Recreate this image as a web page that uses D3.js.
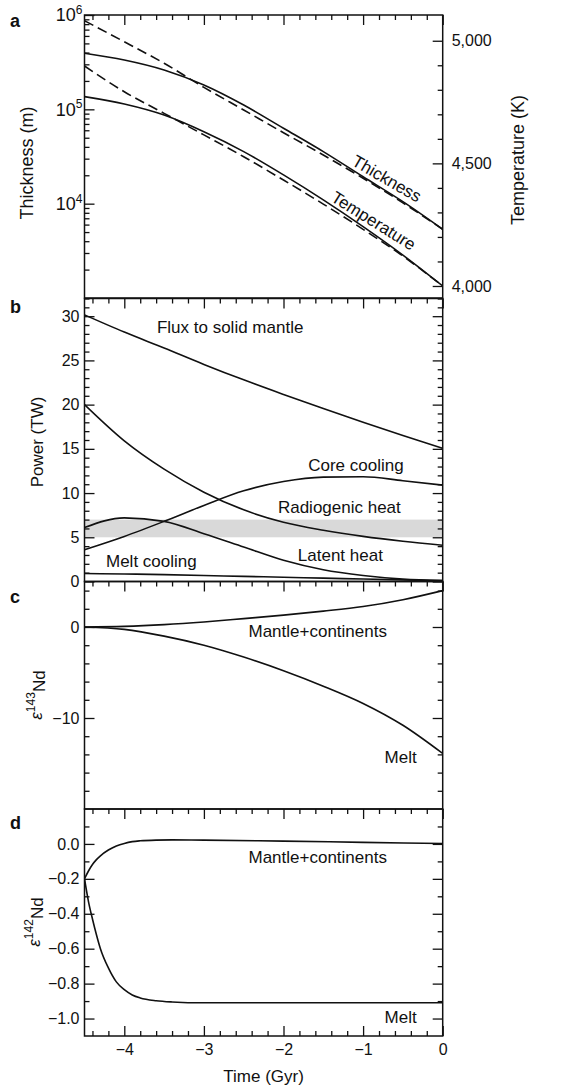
<!DOCTYPE html>
<html><head><meta charset="utf-8">
<script src="https://cdn.jsdelivr.net/npm/d3@7"></script>
<style>
body{margin:0;background:#fff;}
svg text{font-family:"Liberation Sans",Arial,Helvetica,sans-serif;fill:#111;}
</style></head><body>
<svg id="chart" width="579" height="1086"></svg>
<script>
// ---------------- DATA ----------------
const years = [-4.5,-4,-3.5,-3,-2.5,-2,-1.5,-1,-0.5,0];
const timeTicks = [-4,-3,-2,-1,0];
// panel a
const thicknessModel   = [3.93e5,3.33e5,2.61e5,1.81e5,1.11e5,6.3e4,3.56e4,1.93e4,1.05e4,5.35e3];
const thicknessApprox  = [8.7e5,5.2e5,3.08e5,1.71e5,9.84e4,5.65e4,3.28e4,1.86e4,1.02e4,5.35e3];
const temperatureModel = [4772,4742,4697,4629,4548,4453,4351,4242,4126,4000];
const temperatureApprox= [4897,4792,4704,4616,4527,4432,4334,4231,4122,4000];
const thicknessTicks = [1e4,1e5,1e6];
const thicknessExp = ["4","5","6"];
const temperatureTicks = [4000,4500,5000];
// panel b
const fluxToMantle   = [30.15,28.2,26.4,24.55,22.8,21.15,19.55,18.0,16.5,15.05];
const radiogenicHeat = [20.0,15.9,12.7,10.1,8.1,6.7,5.8,5.1,4.55,4.1];
const coreCooling    = [3.6,5.1,6.8,8.6,10.25,11.3,11.8,11.85,11.4,10.9];
const latentHeat     = [6.1,7.2,6.8,5.4,3.9,2.4,1.33,0.68,0.27,0.1];
const meltCooling    = [0.9,0.85,0.78,0.68,0.58,0.48,0.38,0.28,0.18,0.1];
const radiogenicBand = [5,7];
const powerTicks = [0,5,10,15,20,25,30];
// panel c
const nd143Mantle = [0,0.07,0.26,0.55,0.92,1.3,1.74,2.25,3.0,4.0];
const nd143Melt   = [0,-0.26,-1.0,-2.0,-3.3,-4.8,-6.5,-8.4,-10.8,-13.9];
const nd143Ticks = [-10,0];
// panel d
const nd142Years  = [-4.5,-4.45,-4.4,-4.35,-4.3,-4.2,-4.1,-4.0,-3.9,-3.8,-3.6,-3.4,-3.0,-2,-1,0];
const nd142Mantle = [-0.20,-0.155,-0.118,-0.09,-0.068,-0.035,-0.012,0.003,0.013,0.018,0.022,0.023,0.022,0.016,0.009,0.002];
const nd142Melt   = [-0.20,-0.33,-0.43,-0.52,-0.60,-0.71,-0.79,-0.835,-0.865,-0.882,-0.898,-0.905,-0.91,-0.91,-0.91,-0.91];
const nd142Ticks = [-1.0,-0.8,-0.6,-0.4,-0.2,0.0];

// ---------------- LAYOUT ----------------
const FONT = '"Liberation Sans",Arial,Helvetica,sans-serif';
const INK = "#111";
const svg = d3.select("#chart");
const X0 = 84.5, X1 = 442.7;
const P = {a:[15,298], b:[298.5,581.5], c:[581.5,809], d:[809,1036]};
const x = d3.scaleLinear().domain([-4.5,0]).range([X0,X1]);
const yThick = d3.scaleLog().domain([1e3,1e6]).range([P.a[1],P.a[0]]);
const yTemp = d3.scaleLinear().domain([3951,5105]).range([P.a[1],P.a[0]]);
const yPow = d3.scaleLinear().domain([0,32]).range([P.b[1],P.b[0]]);
const y143 = d3.scaleLinear().domain([-20,5]).range([P.c[1],P.c[0]]);
const y142 = d3.scaleLinear().domain([-1.1,0.2]).range([P.d[1],P.d[0]]);

const xMinor = d3.range(-22,1).filter(i=>i%5!==0).map(i=>i*0.2);

function axisG(gen, tx, ty, fs){
  const g = svg.append("g").attr("transform",`translate(${tx},${ty})`).call(gen);
  g.attr("font-family",FONT).attr("font-size",fs||16);
  g.select(".domain").remove();
  g.selectAll("line").attr("stroke",INK).attr("stroke-width",1.3);
  g.selectAll("text").attr("fill",INK);
  return g;
}
function clip(id, top, bottom){
  svg.append("clipPath").attr("id",id).append("rect")
    .attr("x",X0).attr("y",top).attr("width",X1-X0).attr("height",bottom-top);
}
function frame(top,bottom){
  svg.append("rect").attr("x",X0).attr("y",top).attr("width",X1-X0).attr("height",bottom-top)
    .attr("fill","none").attr("stroke",INK).attr("stroke-width",1.5);
}
function topTicks(top){
  axisG(d3.axisTop(x).tickValues(timeTicks).tickSize(-10).tickFormat(""),0,top);
  axisG(d3.axisTop(x).tickValues(xMinor).tickSize(-5).tickFormat(""),0,top);
}
function sideTicks(scale, major, minor, fmt, fs){
  axisG(d3.axisLeft(scale).tickValues(major).tickSize(-10).tickPadding(5).tickFormat(fmt||""),X0,0,fs);
  axisG(d3.axisLeft(scale).tickValues(minor).tickSize(-5).tickFormat(""),X0,0);
  axisG(d3.axisRight(scale).tickValues(major).tickSize(-10).tickFormat(""),X1,0);
  axisG(d3.axisRight(scale).tickValues(minor).tickSize(-5).tickFormat(""),X1,0);
}
function drawLine(xs, ys, yScale, clipId, dash){
  const line = d3.line().x(d=>x(d[0])).y(d=>yScale(d[1])).curve(d3.curveMonotoneX);
  svg.append("path").datum(xs.map((v,i)=>[v,ys[i]]))
    .attr("d",line).attr("fill","none").attr("stroke",INK).attr("stroke-width",1.6)
    .attr("stroke-dasharray",dash||null).attr("clip-path",`url(#${clipId})`);
}
function label(txt, xv, yv, yScale, opts={}){
  const t = svg.append("text").attr("x",x(xv)).attr("y",yScale(yv))
    .attr("font-size",opts.fs||17).attr("text-anchor",opts.anchor||"start").text(txt);
  if(opts.rot!==undefined){
    t.attr("transform",`rotate(${opts.rot},${x(xv)},${yScale(yv)})`).attr("dy",opts.dy||"-0.3em");
  }
  return t;
}
function panelLetter(l, y){
  svg.append("text").attr("x",10).attr("y",y).attr("font-size",18).attr("font-weight","bold").text(l);
}
function yTitle(cx, cy, fs){
  return svg.append("text").attr("transform",`translate(${cx},${cy}) rotate(-90)`)
    .attr("text-anchor","middle").attr("font-size",fs||17);
}

// ---------- Panel a ----------
clip("ca",P.a[0],P.a[1]);
drawLine(years, thicknessApprox, yThick, "ca", "10,5");
drawLine(years, temperatureApprox, yTemp, "ca", "10,5");
drawLine(years, thicknessModel, yThick, "ca");
drawLine(years, temperatureModel, yTemp, "ca");
topTicks(P.a[0]);
const thickMinor = [];
[1e3,1e4,1e5].forEach(b=>{ for(let k=2;k<=9;k++) thickMinor.push(k*b); });
axisG(d3.axisLeft(yThick).tickValues(thicknessTicks).tickSize(-10).tickFormat(""),X0,0);
axisG(d3.axisLeft(yThick).tickValues(thickMinor).tickSize(-5).tickFormat(""),X0,0);
thicknessTicks.forEach((v,i)=>{
  const t = svg.append("text").attr("x",X0-2).attr("y",yThick(v)).attr("dy","0.35em")
    .attr("text-anchor","end").attr("font-size",18);
  t.append("tspan").text("10");
  t.append("tspan").attr("font-size",12).attr("dy","-0.6em").text(thicknessExp[i]);
});
const tempMinor = d3.range(4000,5100,100).filter(v=>v%500!==0);
axisG(d3.axisRight(yTemp).tickValues(temperatureTicks).tickSize(-10).tickPadding(9).tickFormat(d3.format(",")),X1,0,16);
axisG(d3.axisRight(yTemp).tickValues(tempMinor).tickSize(-5).tickFormat(""),X1,0);
frame(P.a[0],P.a[1]);
label("Thickness", -0.77, 1.46e4, yThick, {anchor:"middle", rot:30, fs:17});
label("Temperature", -0.94, 4228, yTemp, {anchor:"middle", rot:32, fs:17});
yTitle(33,163,18).text("Thickness (m)");
yTitle(524,160,18).text("Temperature (K)");
panelLetter("a",27);

// ---------- Panel b ----------
clip("cb",P.b[0],P.b[1]);
svg.append("rect").attr("x",X0).attr("width",X1-X0)
  .attr("y",yPow(radiogenicBand[1])).attr("height",yPow(radiogenicBand[0])-yPow(radiogenicBand[1]))
  .attr("fill","#d9d9d9");
drawLine(years, fluxToMantle, yPow, "cb");
drawLine(years, radiogenicHeat, yPow, "cb");
drawLine(years, coreCooling, yPow, "cb");
drawLine(years, latentHeat, yPow, "cb");
drawLine(years, meltCooling, yPow, "cb");
topTicks(P.b[0]);
sideTicks(yPow, powerTicks, d3.range(1,33).filter(v=>v%5!==0), d3.format("d"), 16);
frame(P.b[0],P.b[1]);
label("Flux to solid mantle", -3.59, 28.1, yPow);
label("Core cooling", -1.69, 12.5, yPow);
label("Radiogenic heat", -2.07, 7.78, yPow);
label("Latent heat", -1.82, 2.35, yPow);
label("Melt cooling", -4.23, 1.67, yPow);
yTitle(43,442).text("Power (TW)");
panelLetter("b",313);

// ---------- Panel c ----------
clip("cc",P.c[0],P.c[1]);
drawLine(years, nd143Mantle, y143, "cc");
drawLine(years, nd143Melt, y143, "cc");
topTicks(P.c[0]);
sideTicks(y143, nd143Ticks, d3.range(-18,5,2).filter(v=>v%10!==0), d3.format("d"), 16);
frame(P.c[0],P.c[1]);
label("Mantle+continents", -2.44, -1.07, y143);
label("Melt", -0.73, -14.9, y143);
{
  const t = yTitle(42,695);
  t.append("tspan").attr("font-style","italic").text("ε");
  t.append("tspan").attr("font-size",12).attr("dy","-0.6em").text("143");
  t.append("tspan").attr("dy","0.6em").text("Nd");
}
panelLetter("c",603);

// ---------- Panel d ----------
clip("cd",P.d[0],P.d[1]);
drawLine(nd142Years, nd142Mantle, y142, "cd");
drawLine(nd142Years, nd142Melt, y142, "cd");
topTicks(P.d[0]);
sideTicks(y142, nd142Ticks, [-0.9,-0.7,-0.5,-0.3,-0.1,0.1], d3.format(".1f"), 16);
axisG(d3.axisBottom(x).tickValues(timeTicks).tickSize(-10).tickPadding(8).tickFormat(d3.format("d")),0,P.d[1],16);
axisG(d3.axisBottom(x).tickValues(xMinor).tickSize(-5).tickFormat(""),0,P.d[1]);
frame(P.d[0],P.d[1]);
label("Mantle+continents", -2.44, -0.111, y142);
label("Melt", -0.73, -1.028, y142);
{
  const t = yTitle(40,922);
  t.append("tspan").attr("font-style","italic").text("ε");
  t.append("tspan").attr("font-size",12).attr("dy","-0.6em").text("142");
  t.append("tspan").attr("dy","0.6em").text("Nd");
}
panelLetter("d",829);
svg.append("text").attr("x",(X0+X1)/2).attr("y",1082).attr("text-anchor","middle")
  .attr("font-size",17).text("Time (Gyr)");
</script>
</body></html>
